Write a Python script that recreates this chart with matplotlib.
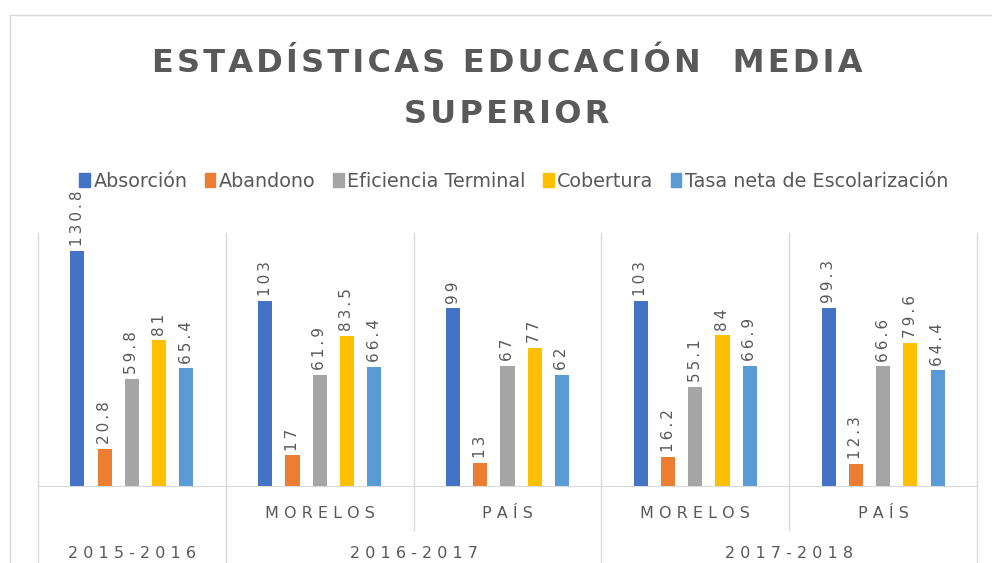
import matplotlib
matplotlib.use('Agg')
import matplotlib.pyplot as plt
import numpy as np
from matplotlib.patches import Patch
from matplotlib.lines import Line2D

# datos
anios = ['2015-2016', '2016-2017', '2017-2018']
subcategorias = ['', 'MORELOS', 'PAÍS', 'MORELOS', 'PAÍS']
series = ['Absorción', 'Abandono', 'Eficiencia Terminal', 'Cobertura',
          'Tasa neta de Escolarización']
absorcion = [130.8, 103, 99, 103, 99.3]
abandono = [20.8, 17, 13, 16.2, 12.3]
eficiencia = [59.8, 61.9, 67, 55.1, 66.6]
cobertura = [81, 83.5, 77, 84, 79.6]
tasa_neta = [65.4, 66.4, 62, 66.9, 64.4]
valores = [absorcion, abandono, eficiencia, cobertura, tasa_neta]
colores = ['#4472C4', '#ED7D31', '#A5A5A5', '#FFC000', '#5B9BD5']

gris = '#595959'
linea = '#D9D9D9'


def espaciar(texto, sep='\u200a'):
    return sep.join(texto)


fig = plt.figure(figsize=(9.92, 5.63), dpi=100)
ax = fig.add_axes([38 / 992, (563 - 486) / 563, (977 - 38) / 992, 253 / 563])

x = np.arange(len(absorcion))
ancho = 0.075
paso = 0.145
for i, (serie, col) in enumerate(zip(valores, colores)):
    pos = x + (i - 2) * paso
    ax.bar(pos, serie, width=ancho, color=col)
    for px, v in zip(pos, serie):
        ax.text(px, v + 2.5, espaciar(f'{v:g}', '\u2009'), rotation=90,
                ha='center', va='bottom', fontsize=11, color=gris)

ax.set_xlim(-0.5, len(x) - 0.5)
ax.set_ylim(0, 140.8)
for s in ['top', 'right', 'left']:
    ax.spines[s].set_visible(False)
ax.spines['bottom'].set_color(linea)
ax.set_xticks([])
ax.set_yticks([])

# separadores del eje de categorias
tr = ax.get_xaxis_transform()
fondo = -(563 - 486) / 253
medio = -(530 - 486) / 253
for b, y0 in zip([-0.5, 0.5, 1.5, 2.5, 3.5, 4.5],
                 [fondo, fondo, medio, fondo, medio, fondo]):
    ax.plot([b, b], [y0, 1], color=linea, lw=1, transform=tr, clip_on=False)

# etiquetas de categorias
y_sub = -(513 - 486) / 253
y_anio = -(553 - 486) / 253
for xi, sub in zip(x, subcategorias):
    if sub:
        ax.text(xi, y_sub, espaciar(sub, ' '), transform=tr, ha='center',
                va='center', fontsize=11.5, color=gris)
for xc, anio in zip([0, 1.5, 3.5], anios):
    ax.text(xc, y_anio, espaciar(anio, ' '), transform=tr, ha='center',
            va='center', fontsize=11.5, color=gris)

# titulo
fig.text(0.511, 0.888, espaciar('ESTADÍSTICAS EDUCACIÓN  MEDIA'),
         ha='center', va='center', fontsize=23, fontweight='bold', color=gris)
fig.text(0.511, 0.797, espaciar('SUPERIOR'), ha='center',
         va='center', fontsize=23, fontweight='bold', color=gris)

# leyenda
handles = [Patch(color=c) for c in colores]
fig.legend(handles, series, loc='center', bbox_to_anchor=(0.518, 0.678),
           ncol=5, frameon=False, fontsize=13.8, handlelength=0.55,
           handleheight=0.8, handletextpad=0.2, columnspacing=0.9,
           labelcolor=gris)

# borde del grafico
fig.add_artist(Line2D([10 / 992, 1], [1 - 15 / 563, 1 - 15 / 563],
                      color=linea, lw=1, transform=fig.transFigure))
fig.add_artist(Line2D([10 / 992, 10 / 992], [0, 1 - 15 / 563],
                      color=linea, lw=1, transform=fig.transFigure))

fig.savefig('out.png', dpi=100)
